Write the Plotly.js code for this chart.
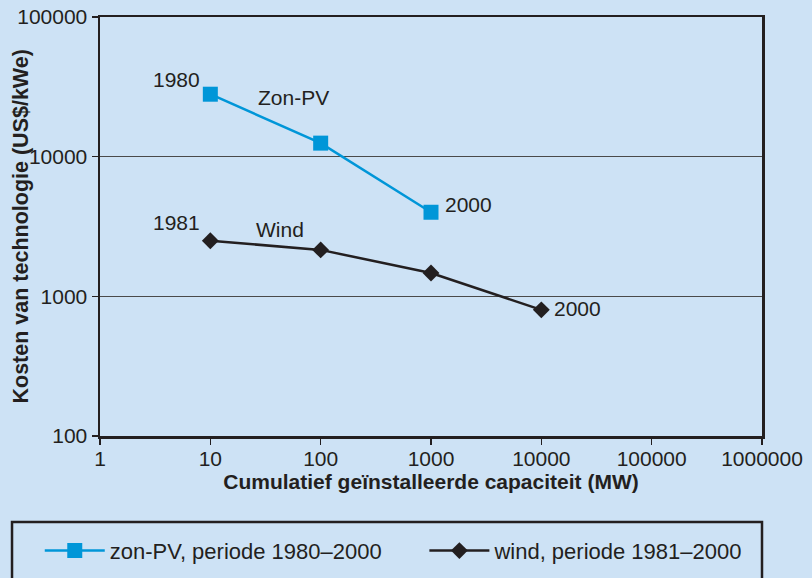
<!DOCTYPE html>
<html>
<head>
<meta charset="utf-8">
<script src="https://cdn.plot.ly/plotly-3.0.1.min.js"></script>
<style>html,body{margin:0;padding:0;background:#cde2f5;}#chart{width:812px;height:578px;}</style>
</head>
<body>
<div id="chart"></div>
<script>
// Data
const capacity = [10, 100, 1000, 10000];           // MW
const pvCost = [28000, 12500, 4000];                 // US$/kWe, 1980–2000
const windCost = [2500, 2150, 1470, 800];            // US$/kWe, 1981–2000
const pvName = "zon-PV, periode 1980–2000";
const windName = "wind, periode 1981–2000";
const xTickVals = [1, 10, 100, 1000, 10000, 100000, 1000000];
const xTickText = ["1", "10", "100", "1000", "10000", "100000", "1000000"];
const yTickVals = [100, 1000, 10000, 100000];
const yTickText = ["100", "1000", "10000", "100000"];

const ink = "#231f20";
const blue = "#0096d8";
const bg = "#cde2f5";
const font = "Liberation Sans, Arial, sans-serif";
const fs = 21;

const traces = [
  {
    x: capacity.slice(0, pvCost.length), y: pvCost, name: pvName,
    type: "scatter", mode: "lines+markers", legend: "legend",
    line: {color: blue, width: 2.5},
    marker: {symbol: "square", size: 15, color: blue}
  },
  {
    x: capacity, y: windCost, name: windName,
    type: "scatter", mode: "lines+markers", legend: "legend2",
    line: {color: ink, width: 2.5},
    marker: {symbol: "diamond", size: 13, color: ink}
  }
];

const L = Math.log10;
const annFont = {family: font, size: fs, color: ink};
const annotations = [
  {x: L(capacity[0]), y: L(pvCost[0]), text: "1980", xanchor: "right", yanchor: "middle", xshift: -8, yshift: 15},
  {x: L(capacity[0]), y: L(pvCost[0]), text: "Zon-PV", xanchor: "left", yanchor: "middle", xshift: 46, yshift: -3},
  {x: L(capacity[2]), y: L(pvCost[2]), text: "2000", xanchor: "left", yanchor: "middle", xshift: 12, yshift: 8},
  {x: L(capacity[0]), y: L(windCost[0]), text: "1981", xanchor: "right", yanchor: "middle", xshift: -8, yshift: 18},
  {x: L(capacity[0]), y: L(windCost[0]), text: "Wind", xanchor: "left", yanchor: "middle", xshift: 44, yshift: 11},
  {x: L(capacity[3]), y: L(windCost[3]), text: "2000", xanchor: "left", yanchor: "middle", xshift: 11, yshift: 1},
].map(a => Object.assign({xref: "x", yref: "y", showarrow: false, font: annFont}, a));

annotations.push({
  xref: "paper", yref: "paper", x: -0.1208, y: 0.5, textangle: -90,
  text: "<b>Kosten van technologie (US$/kWe)</b>", showarrow: false,
  xanchor: "center", yanchor: "middle", font: {family: font, size: 21.5, color: ink}
});

const legendBase = {
  orientation: "h", yanchor: "middle", xanchor: "left", y: -0.274,
  bgcolor: "rgba(0,0,0,0)", borderwidth: 0, itemwidth: 60,
  font: {family: font, size: 22, color: ink}
};

const layout = {
  width: 812, height: 578,
  paper_bgcolor: bg, plot_bgcolor: bg,
  margin: {l: 100, r: 50, t: 17, b: 142, autoexpand: false},
  font: {family: font, size: fs, color: ink},
  showlegend: true,
  xaxis: {
    type: "log", range: [0, 6],
    tickvals: xTickVals, ticktext: xTickText,
    ticks: "outside", ticklen: 6, tickwidth: 1.5, tickcolor: ink,
    ticklabelstandoff: -4,
    showline: true, linecolor: ink, linewidth: 2.5, mirror: true,
    showgrid: false, zeroline: false,
    tickfont: {family: font, size: fs, color: ink},
    title: {text: "<b>Cumulatief geïnstalleerde capaciteit (MW)</b>", standoff: 6,
            font: {family: font, size: fs, color: ink}}
  },
  yaxis: {
    type: "log", range: [2, 5],
    tickvals: yTickVals, ticktext: yTickText,
    ticks: "outside", ticklen: 6, tickwidth: 1.5, tickcolor: ink,
    showline: true, linecolor: ink, linewidth: 2.5, mirror: true,
    showgrid: true, gridcolor: "#4a4a4a", gridwidth: 1.2, zeroline: false,
    tickfont: {family: font, size: fs, color: ink}
  },
  legend: Object.assign({x: -0.091}, legendBase),
  legend2: Object.assign({x: 0.49}, legendBase),
  shapes: [{
    type: "rect", xref: "paper", yref: "paper",
    x0: -0.1329, x1: 1.0, y0: -0.36, y1: -0.2053,
    line: {color: ink, width: 2.5}, fillcolor: "rgba(0,0,0,0)"
  }],
  annotations: annotations
};

Plotly.newPlot("chart", traces, layout, {displayModeBar: false, staticPlot: true});
</script>
</body>
</html>
